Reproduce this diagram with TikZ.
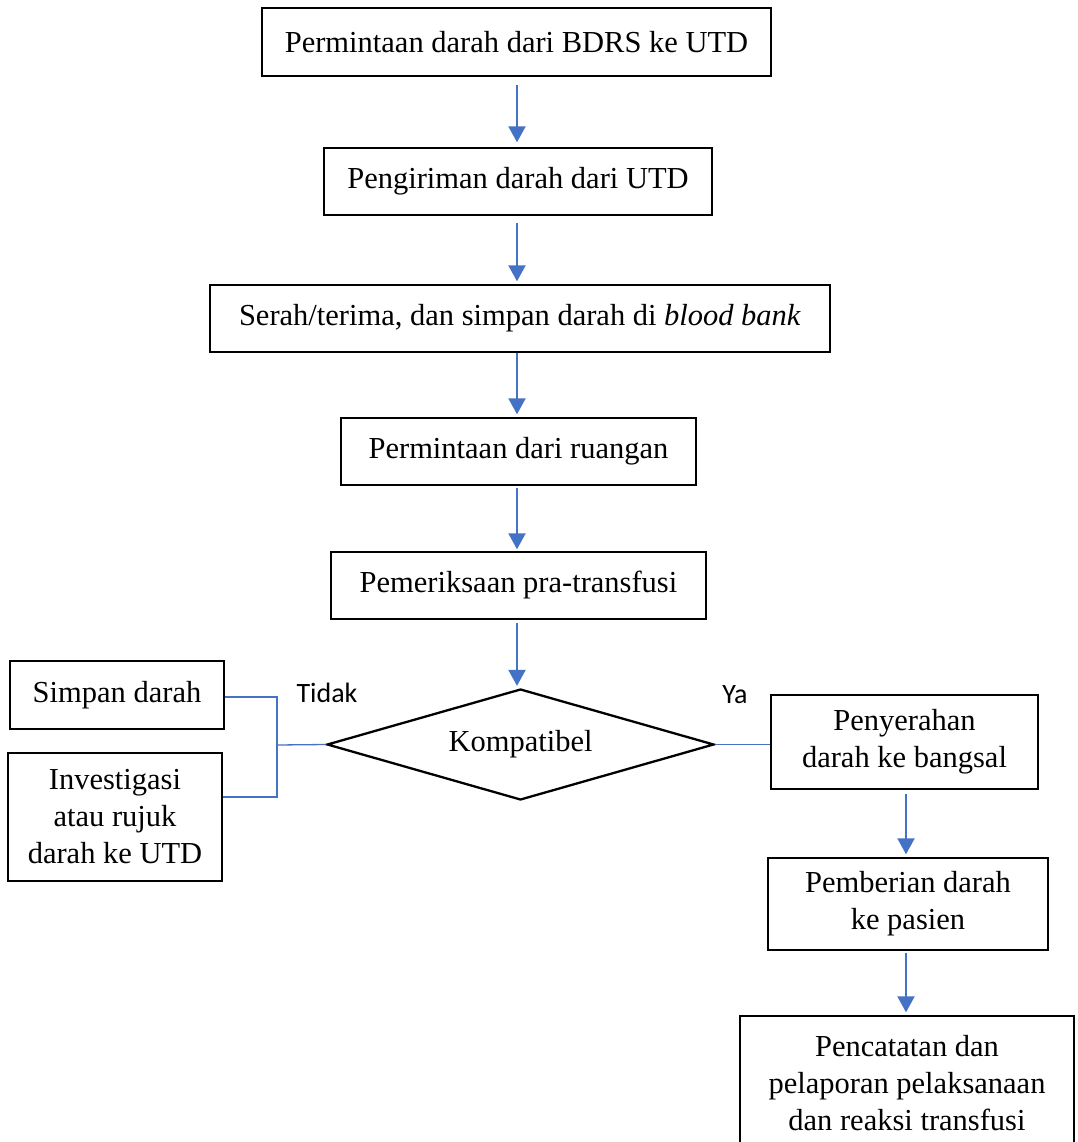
\documentclass[tikz,border=0pt]{standalone}
\usepackage{fontspec}
\setmainfont{Liberation Serif}
\newfontfamily\labfont{Carlito}
\usetikzlibrary{shapes.geometric,arrows.meta}
\definecolor{arrblue}{HTML}{4472C4}
\tikzset{
  box/.style={draw=black, line width=1.4pt, inner sep=0pt, align=center,
    font=\fontsize{30.5}{37}\selectfont},
  arr/.style={draw=arrblue, line width=2.2pt, -{Triangle[width=17pt,length=16pt]}},
  thinline/.style={draw=arrblue, line width=1.3pt},
  lab/.style={font=\labfont\fontsize{28}{30}\selectfont, inner sep=0pt}
}
\begin{document}
\begin{tikzpicture}[x=1pt,y=-1pt]
\useasboundingbox (0,0) rectangle (1077,1142);
\clip (0,0) rectangle (1077,1142);
\node[box, minimum width=509pt, minimum height=68pt] (b1) at (516.5,42) {Permintaan darah dari BDRS ke UTD};
\node[box, minimum width=388pt, minimum height=67pt] (b2) at (518,181.5) {Pengiriman darah dari UTD};
\node[box, minimum width=620pt, minimum height=67pt] (b3) at (520,318.5) {Serah/terima, dan simpan darah di \textit{blood bank}};
\node[box, minimum width=355pt, minimum height=67pt] (b4) at (518.5,451.5) {Permintaan dari ruangan};
\node[box, minimum width=375pt, minimum height=67pt] (b5) at (518.5,585.5) {Pemeriksaan pra-transfusi};
\node[box, diamond, aspect=3.49, line width=2.3pt, minimum width=387pt, minimum height=111pt] (dia) at (520.5,744.5) {Kompatibel};
\node[box, minimum width=214pt, minimum height=68pt] (simpan) at (117,695) {Simpan darah};
\node[box, minimum width=214pt, minimum height=128pt] (inv) at (115,817) {Investigasi\\atau rujuk\\darah ke UTD};
\node[box, minimum width=267pt, minimum height=94pt] (peny) at (904.5,742) {Penyerahan\\darah ke bangsal};
\node[box, minimum width=280pt, minimum height=92pt] (pemb) at (908,904) {Pemberian darah\\ke pasien};
\node[box, minimum width=334pt, minimum height=134pt] (penc) at (907,1083) {Pencatatan dan\\pelaporan pelaksanaan\\dan reaksi transfusi};
\node[lab] (tidak) at (327,693) {Tidak};
\node[lab] (ya) at (735,695) {Ya};
\coordinate (ax) at (517,0);
\coordinate (rx) at (906,0);
\coordinate (J) at (277,745);
\draw[arr, shorten <=8pt, shorten >=5pt] (b1.south -| ax) -- (b2.north -| ax);
\draw[arr, shorten <=7pt, shorten >=3pt] (b2.south -| ax) -- (b3.north -| ax);
\draw[arr, shorten >=3pt] (b3.south -| ax) -- (b4.north -| ax);
\draw[arr, shorten <=2pt, shorten >=2pt] (b4.south -| ax) -- (b5.north -| ax);
\draw[arr, shorten <=3pt, shorten >=2pt] (b5.south -| ax) -- (dia.north -| ax);
\draw[arr, shorten <=4pt, shorten >=3pt] (peny.south -| rx) -- (pemb.north -| rx);
\draw[arr, shorten <=2pt, shorten >=3pt] (pemb.south -| rx) -- (penc.north -| rx);
\draw[thinline] ([yshift=-2pt]simpan.east) -| (J);
\draw[thinline] ([yshift=20pt]inv.east) -| (J);
\draw[thinline] (J) -- (dia.west);
\draw[thinline] (dia.east) -- (dia.east -| peny.west);
\end{tikzpicture}
\end{document}
